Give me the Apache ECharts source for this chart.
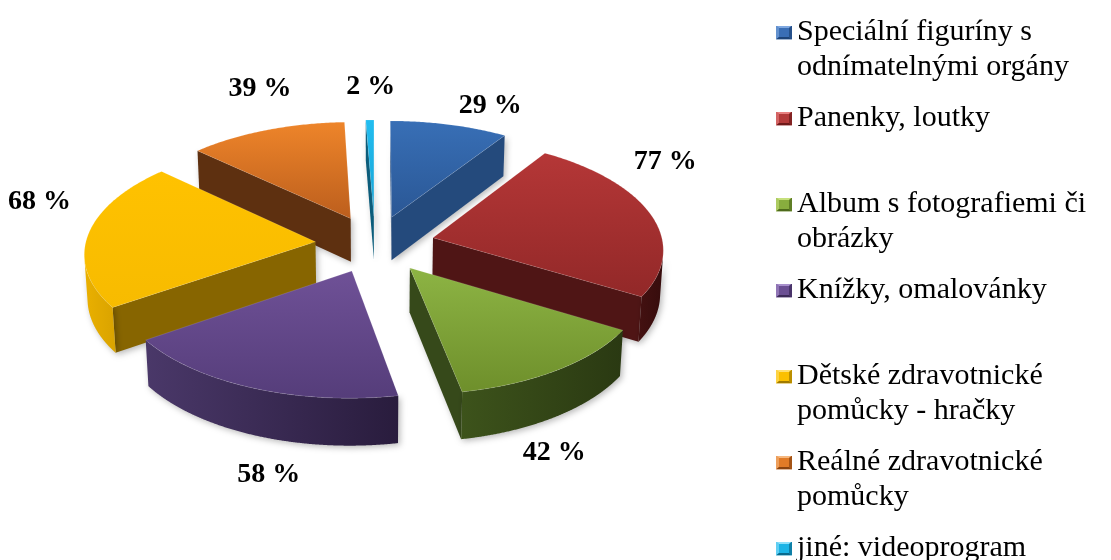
<!DOCTYPE html>
<html>
<head>
<meta charset="utf-8">
<script src="https://cdn.jsdelivr.net/npm/echarts@6/dist/echarts.min.js"></script>
<style>html,body{margin:0;padding:0;background:#fff}#c{width:1111px;height:560px}</style>
</head>
<body>
<div id="c"></div>
<script>
// ---- data ----
const CATEGORIES = [
  'Speciální figuríny s\nodnímatelnými orgány',
  'Panenky, loutky',
  'Album s fotografiemi či\nobrázky',
  'Knížky, omalovánky',
  'Dětské zdravotnické\npomůcky - hračky',
  'Reálné zdravotnické\npomůcky',
  'jiné: videoprogram'
];
const VALUES = [29, 77, 42, 58, 68, 39, 2];
const LABELS = VALUES.map(v => v + ' %');

// ---- styles ----
const STYLE = [
  {legend:['#7FA8E0','#3A6EB5','#1E4478'], top:['#386FB6','#2A5795'], cut:'#244A7C', wall:['#2A5590','#1E3F6C']},
  {legend:['#E88080','#B43A3A','#6E1A1A'], top:['#B53737','#922828'], cut:'#4F1515', wall:['#441111','#360C0C']},
  {legend:['#C6E07C','#88AD3E','#4E6A1C'], top:['#8DB444','#6E8F2B'], cut:'#36491A', wall:['#3D531B','#2A3912']},
  {legend:['#A890CC','#6B4F93','#3C2A58'], top:['#6F5197','#553D7A'], cut:'#3A2A55', wall:['#4A3869','#291C3D']},
  {legend:['#FFE070','#FBC000','#A07A00'], top:['#FFC200','#F7BB00'], cut:'#876500', wall:['#EAB000','#D9A300']},
  {legend:['#F5B880','#E17B27','#8A4410'], top:['#EE852A','#BC5E1D'], cut:'#5E3010', wall:['#6A3812','#4E280C']},
  {legend:['#8EE0FA','#1CB4E6','#0A6A8C'], top:['#22BDF0','#16A2D4'], cut:'#0B5C7A', wall:['#0E6E90','#0A5670']}
];
// label nudges relative to the outer mid-point of each slice (screen px)
const LABEL_NUDGE = [[41,-19],[15,-52],[-4,83],[17,87],[-49,-32],[-6,-41],[1,-33]];

// ---- 3D projection geometry ----
const G = {cx:375, cy:244, K:230, sinA:0.478, cosA:0.878, p:0.106, H:0.219, e:0.26};
const TOTAL = VALUES.reduce((a,b)=>a+b,0);
const CAMD = G.cosA / G.p;

function proj(X, Y, Z) {
  const yv = Y*G.cosA - Z*G.sinA;
  const zv = Y*G.sinA + Z*G.cosA;
  const w = 1 - G.p*zv;
  return [G.cx + G.K*X/w, G.cy - G.K*yv/w];
}
function geom(i, val) {
  let before = 0;
  for (let k = 0; k < i; k++) before += VALUES[k];
  const s = before/TOTAL*2*Math.PI, e = (before+val)/TOTAL*2*Math.PI, m = (s+e)/2;
  return {s, e, m, ox: G.e*Math.sin(m), oz: -G.e*Math.cos(m)};
}
function rim(g, phi, Y) { return proj(g.ox + Math.sin(phi), Y, g.oz - Math.cos(phi)); }
function depthZ2(g) { return Math.round(((g.oz - Math.cos(g.m)*0.5)*G.cosA + 5)*100); }

function lin(c, horiz) {
  return new echarts.graphic.LinearGradient(0, 0, horiz?1:0, horiz?0:1,
    [{offset:0,color:c[0]},{offset:1,color:c[1]}]);
}
const SHADOW = {shadowBlur:6, shadowColor:'rgba(0,0,0,0.28)', shadowOffsetX:2, shadowOffsetY:2};

function renderSides(params, api) {
  const i = params.dataIndex;
  const g = geom(i, api.value(1));
  const st = STYLE[i];
  const z2 = depthZ2(g);
  const children = [];
  const aTop = proj(g.ox, 0, g.oz), aBot = proj(g.ox, -G.H, g.oz);
  const dotS = g.ox*Math.cos(g.s) - Math.sin(g.s)*(CAMD - g.oz);
  if (dotS > 0) {
    children.push({type:'polygon', z2,
      shape:{points:[aTop, rim(g,g.s,0), rim(g,g.s,-G.H), aBot]},
      style:Object.assign({fill:st.cut}, SHADOW)});
  }
  const dotE = -g.ox*Math.cos(g.e) + Math.sin(g.e)*(CAMD - g.oz);
  if (dotE > 0) {
    children.push({type:'polygon', z2,
      shape:{points:[aTop, rim(g,g.e,0), rim(g,g.e,-G.H), aBot]},
      style:Object.assign({fill:st.cut}, SHADOW)});
  }
  const vis = phi => (-1 - g.ox*Math.sin(phi) + g.oz*Math.cos(phi) - CAMD*Math.cos(phi)) > 0;
  const n = Math.max(2, Math.ceil((g.e-g.s)/0.004));
  const run = [];
  for (let k = 0; k <= n; k++) {
    const phi = g.s + (g.e-g.s)*k/n;
    if (vis(phi)) run.push(phi);
  }
  if (run.length >= 2) {
    const topPts = run.map(phi => rim(g, phi, 0));
    const botPts = run.map(phi => rim(g, phi, -G.H)).reverse();
    children.push({type:'polygon', z2: z2+1,
      shape:{points: topPts.concat(botPts)},
      style:Object.assign({fill: lin(st.wall, true)}, SHADOW)});
  }
  return {type:'group', children};
}

function renderTops(params, api) {
  const i = params.dataIndex;
  const g = geom(i, api.value(1));
  const st = STYLE[i];
  const n = Math.max(2, Math.ceil((g.e-g.s)/0.01));
  const pts = [proj(g.ox, 0, g.oz)];
  for (let k = 0; k <= n; k++) pts.push(rim(g, g.s + (g.e-g.s)*k/n, 0));
  const anchor = rim(g, g.m, 0);
  const nd = LABEL_NUDGE[i];
  return {type:'group', children:[
    {type:'polygon', z2: depthZ2(g), shape:{points:pts},
     style:{fill: lin(st.top, false), stroke:'rgba(255,255,255,0.12)', lineWidth:1}},
    {type:'text', z2: 10000, style:{
      text: LABELS[i], x: anchor[0]+nd[0], y: anchor[1]+nd[1],
      align:'center', verticalAlign:'middle',
      font:'bold 28px "Liberation Serif", "Times New Roman", serif', fill:'#000'}}
  ]};
}

// bevelled legend square
function bevelIcon(c) {
  const svg = "<svg xmlns='http://www.w3.org/2000/svg' width='32' height='28'>" +
    "<rect x='0' y='0' width='32' height='28' fill='" + c[1] + "'/>" +
    "<polygon points='0,0 32,0 26,5 6,5' fill='" + c[0] + "'/>" +
    "<polygon points='0,0 6,5 6,23 0,28' fill='" + c[0] + "' fill-opacity='0.6'/>" +
    "<polygon points='32,0 32,28 26,23 26,5' fill='" + c[2] + "' fill-opacity='0.7'/>" +
    "<polygon points='0,28 6,23 26,23 32,28' fill='" + c[2] + "'/>" +
    "</svg>";
  return 'image://data:image/svg+xml;charset=utf-8,' + encodeURIComponent(svg);
}

const sliceData = VALUES.map((v, i) => [i, v]);

const option = {
  backgroundColor: '#ffffff',
  animation: false,
  legend: {
    orient: 'vertical',
    left: 776,
    top: -20,
    height: 900,
    padding: 0,
    itemGap: -19,
    itemWidth: 16,
    itemHeight: 14,
    selectedMode: false,
    data: CATEGORIES.map((c, i) => ({name: c, icon: bevelIcon(STYLE[i].legend)})),
    formatter: name => '\n' + name + (name.indexOf('\n') >= 0 ? '' : '\n'),
    textStyle: {fontFamily: '"Liberation Serif", "Times New Roman", serif', fontSize: 30, lineHeight: 35, color: '#000'}
  },
  series: [
    {
      type: 'pie', name: 'legendSource', silent: true,
      radius: [0, 0], center: [-200, -200],
      label: {show: false}, labelLine: {show: false},
      data: CATEGORIES.map((c, i) => ({name: c, value: VALUES[i], itemStyle: {color: STYLE[i].legend[1]}}))
    },
    {type: 'custom', name: 'sides', coordinateSystem: 'none', z: 2, silent: true,
     renderItem: renderSides, data: sliceData},
    {type: 'custom', name: 'tops', coordinateSystem: 'none', z: 3, silent: true,
     renderItem: renderTops, data: sliceData}
  ]
};

const chart = echarts.init(document.getElementById('c'), null, {renderer: 'canvas'});
chart.setOption(option);
</script>
</body>
</html>
